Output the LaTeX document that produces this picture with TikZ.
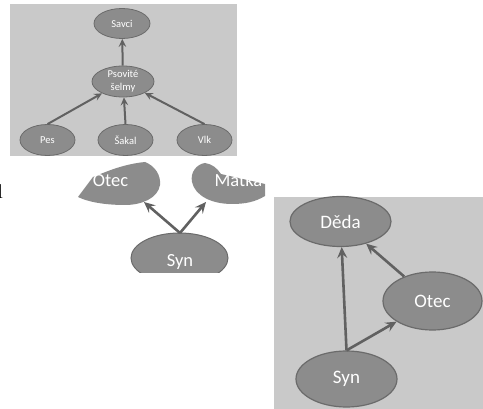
\documentclass[tikz,border=0pt]{standalone}
\usepackage{fontspec}
\setmainfont{Carlito}
\newfontfamily\seriffont{Liberation Serif}
\usetikzlibrary{shapes.geometric,arrows.meta}
\definecolor{panelgray}{HTML}{C9C9C9}
\definecolor{nodegray}{HTML}{8C8C8C}
\definecolor{edgegray}{HTML}{6B6B6B}
\definecolor{arrowgray}{HTML}{616161}
\begin{document}
\begin{tikzpicture}[x=1pt,y=-1pt,
  smallnode/.style={ellipse, fill=nodegray, draw=edgegray, line width=0.8pt,
    inner sep=0pt, text=white, align=center, font=\fontsize{10.5}{13}\selectfont},
  bignode/.style={ellipse, fill=nodegray, draw=edgegray, line width=1.2pt,
    inner sep=0pt, text=white, font=\fontsize{19}{22}\selectfont},
  biglabel/.style={inner sep=0pt, anchor=base, text=white, font=\fontsize{18.5}{22}\selectfont},
  smallarrow/.style={draw=arrowgray, line width=2pt,
    -{Stealth[length=8pt,width=7.5pt,inset=3pt]}},
  bigarrow/.style={draw=arrowgray, line width=2.6pt,
    -{Stealth[length=11pt,width=10pt,inset=4pt]}}]
\useasboundingbox (0,0) rectangle (483,409);

% cut-off letter at the left edge
\node[anchor=base west, inner sep=0pt, font=\seriffont\fontsize{20}{20}\selectfont] (edgeletter) at (-2.8,199) {l};

% ---- taxonomy tree ----
\fill[panelgray] (10,4) rectangle (237,156);
\node[smallnode, minimum width=56pt, minimum height=30pt] (savci) at (122,23.5) {Savci};
\node[smallnode, minimum width=62pt, minimum height=31pt] (psovite) at (123,81.5) {Psovité\\šelmy};
\node[smallnode, minimum width=55pt, minimum height=31pt] (pes) at (47.5,140) {Pes};
\node[smallnode, minimum width=55pt, minimum height=31pt] (sakal) at (125.5,140) {Šakal};
\node[smallnode, minimum width=55pt, minimum height=31pt] (vlk) at (204.5,140) {Vlk};
\draw[smallarrow] (psovite) -- (savci);
\draw[smallarrow] (pes.north) -- (psovite);
\draw[smallarrow] (sakal.north) -- (psovite);
\draw[smallarrow] (vlk.north) -- (psovite);

% ---- cropped parents ----
\fill[nodegray] (78,197) -- (93,177) .. controls (110,170) and (125,164) .. (145,162)
  .. controls (155,166) and (161,175) .. (160,185)
  .. controls (158,198) and (142,205) .. (125,205)
  .. controls (105,205) and (88,202) .. (78,197) -- cycle;
\fill[nodegray] (265,184) -- (265,196) .. controls (255,202) and (245,204) .. (232,204)
  .. controls (212,204) and (195,196) .. (192,182)
  .. controls (190,172) and (197,164) .. (205,163)
  .. controls (212,164) and (217,168) .. (221,174) -- cycle;
\begin{scope}
  \clip (100,220) rectangle (260,272.5);
  \draw[fill=nodegray, draw=edgegray, line width=1pt] (179.5,258) ellipse [x radius=48.5, y radius=25];
\end{scope}
\node[biglabel] (otecA) at (110.5,187) {Otec};
\node[biglabel] (matkaA) at (238.5,187) {Matka};
\node[biglabel] (synA) at (180,267) {Syn};
\coordinate (synTop) at (180,233);
\coordinate (otecTip) at (144,202);
\coordinate (matkaTip) at (206,202);
\draw[bigarrow] (synTop) -- (otecTip);
\draw[bigarrow] (synTop) -- (matkaTip);

% ---- grandparent triangle ----
\fill[panelgray] (274,197) rectangle (483,409);
\node[bignode, minimum width=101pt, minimum height=50pt] (deda) at (340.5,221.5) {Děda};
\node[bignode, minimum width=99pt, minimum height=58pt] (otec) at (432.5,301) {Otec};
\node[bignode, minimum width=101pt, minimum height=56pt] (syn) at (346.5,379) {Syn};
\draw[bigarrow] (syn.north) -- (deda);
\draw[bigarrow] (syn.north) -- (otec);
\draw[bigarrow] (otec) -- (deda);
\end{tikzpicture}
\end{document}
